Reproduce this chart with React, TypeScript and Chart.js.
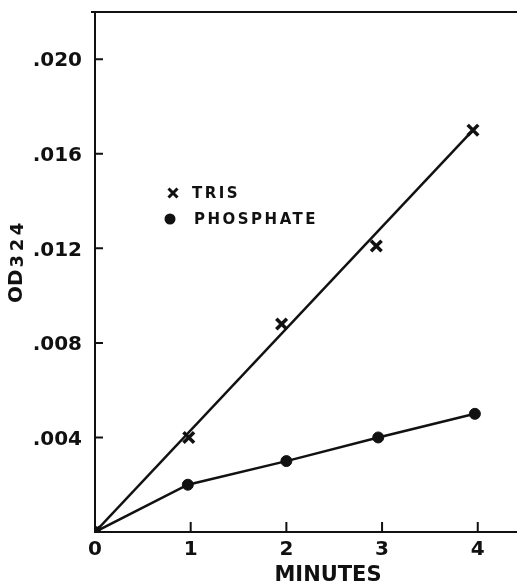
import React, { useEffect, useRef } from 'react';
import { Chart, registerables } from 'chart.js';

Chart.register(...registerables);

// ---- data ----
const xTickValues = [0, 1, 2, 3, 4];
const yTickValues = [0.004, 0.008, 0.012, 0.016, 0.02];
const trisX = [0, 0.98, 1.95, 2.94, 3.95];
const trisY = [0, 0.004, 0.0088, 0.0121, 0.017];
const trisFitX = [0, 3.95];
const trisFitY = [0, 0.017];
const phosX = [0, 0.97, 2.0, 2.96, 3.97];
const phosY = [0, 0.002, 0.003, 0.004, 0.005];
const seriesNames = ['TRIS', 'PHOSPHATE'];
const xTitle = 'MINUTES';
const yTitleMain = 'OD';
const yTitleSub = '324';

const INK = '#111';
const FONT = '"DejaVu Sans", sans-serif';

const noPad = (s: any) => {
  s.paddingLeft = 0;
  s.paddingRight = 0;
  s.paddingTop = 0;
  s.paddingBottom = 0;
};

const decor = {
  id: 'decor',
  afterDraw(chart: any) {
    const { ctx, chartArea, scales } = chart;
    const { left, top, bottom, right } = chartArea;
    ctx.save();
    ctx.strokeStyle = INK;
    ctx.fillStyle = INK;
    ctx.lineWidth = 2;
    ctx.beginPath();
    // top frame line
    ctx.moveTo(left - 4, top);
    ctx.lineTo(right, top);
    // inward ticks
    xTickValues.slice(1).forEach((v) => {
      const px = scales.x.getPixelForValue(v);
      ctx.moveTo(px, bottom);
      ctx.lineTo(px, bottom - 10);
    });
    yTickValues.forEach((v) => {
      const py = scales.y.getPixelForValue(v);
      ctx.moveTo(left, py);
      ctx.lineTo(left + 8, py);
    });
    ctx.stroke();

    // legend
    const lx = left + 78;
    const ly1 = top + 181;
    const ly2 = top + 207;
    ctx.lineWidth = 3;
    ctx.beginPath();
    const r = 4.5;
    ctx.moveTo(lx - r, ly1 - r);
    ctx.lineTo(lx + r, ly1 + r);
    ctx.moveTo(lx + r, ly1 - r);
    ctx.lineTo(lx - r, ly1 + r);
    ctx.stroke();
    ctx.beginPath();
    ctx.arc(lx - 3, ly2, 5.5, 0, Math.PI * 2);
    ctx.fill();
    ctx.font = `bold 15px ${FONT}`;
    (ctx as any).letterSpacing = '2.5px';
    ctx.textBaseline = 'middle';
    ctx.textAlign = 'left';
    ctx.fillText(seriesNames[0], lx + 19, ly1 + 1);
    ctx.fillText(seriesNames[1], lx + 21, ly2 + 1);

    // y title with subscript
    ctx.translate(22, 303);
    ctx.rotate(-Math.PI / 2);
    ctx.textBaseline = 'alphabetic';
    (ctx as any).letterSpacing = '0px';
    ctx.font = `bold 20px ${FONT}`;
    ctx.fillText(yTitleMain, 0, 0);
    const w = ctx.measureText(yTitleMain).width;
    ctx.font = `bold 18px ${FONT}`;
    (ctx as any).letterSpacing = '3.5px';
    ctx.fillText(yTitleSub, w + 2, 1);
    ctx.restore();
  },
};

export default function App() {
  const ref = useRef<HTMLCanvasElement>(null);
  useEffect(() => {
    if (!ref.current) return;
    const chart = new Chart(ref.current, {
      type: 'scatter',
      data: {
        datasets: [
          {
            label: seriesNames[0],
            data: trisX.map((x, i) => ({ x, y: trisY[i] })),
            showLine: false,
            pointStyle: 'crossRot',
            pointRadius: 7.5,
            pointBorderWidth: 3.5,
            borderColor: INK,
            backgroundColor: INK,
          },
          {
            label: seriesNames[0] + ' fit',
            data: trisFitX.map((x, i) => ({ x, y: trisFitY[i] })),
            showLine: true,
            pointRadius: 0,
            borderWidth: 2.5,
            borderColor: INK,
          },
          {
            label: seriesNames[1],
            data: phosX.map((x, i) => ({ x, y: phosY[i] })),
            showLine: true,
            pointStyle: 'circle',
            pointRadius: 5.5,
            pointBorderWidth: 1,
            borderWidth: 2.5,
            borderColor: INK,
            backgroundColor: INK,
          },
        ],
      },
      options: {
        responsive: false,
        animation: false,
        devicePixelRatio: 1,
        layout: { padding: { top: 12, left: 0, right: 0, bottom: 0 } },
        plugins: { legend: { display: false }, tooltip: { enabled: false } },
        scales: {
          x: {
            type: 'linear',
            min: 0,
            max: 4.87,
            afterFit: (s: any) => { s.height = 52; noPad(s); },
            afterBuildTicks: (s: any) => { s.ticks = xTickValues.map((v) => ({ value: v })); },
            grid: { display: false, drawTicks: false },
            border: { display: true, color: INK, width: 2 },
            ticks: {
              color: INK,
              padding: 6,
              font: { family: FONT, size: 20, weight: 'bold' },
              callback: (v: any) => String(v),
            },
            title: {
              display: true,
              text: xTitle,
              color: INK,
              padding: { top: 0, bottom: 0 },
              font: { family: FONT, size: 21, weight: 'bold', lineHeight: 0.8 },
            },
          },
          y: {
            type: 'linear',
            min: 0,
            max: 0.022,
            afterFit: (s: any) => { s.width = 95; noPad(s); },
            afterBuildTicks: (s: any) => { s.ticks = yTickValues.map((v) => ({ value: v })); },
            grid: { display: false, drawTicks: false },
            border: { display: true, color: INK, width: 2 },
            ticks: {
              color: INK,
              padding: 13,
              labelOffset: 2,
              font: { family: FONT, size: 20, weight: 'bold' },
              callback: (v: any) => Number(v).toFixed(3).replace(/^0/, ''),
            },
          },
        },
      },
      plugins: [decor],
    });
    return () => chart.destroy();
  }, []);
  return (
    <div style={{ position: 'absolute', left: 0, top: 0, width: 517, height: 584, overflow: 'hidden', background: '#fff' }}>
      <canvas ref={ref} width={572} height={584} style={{ display: 'block' }} />
    </div>
  );
}
